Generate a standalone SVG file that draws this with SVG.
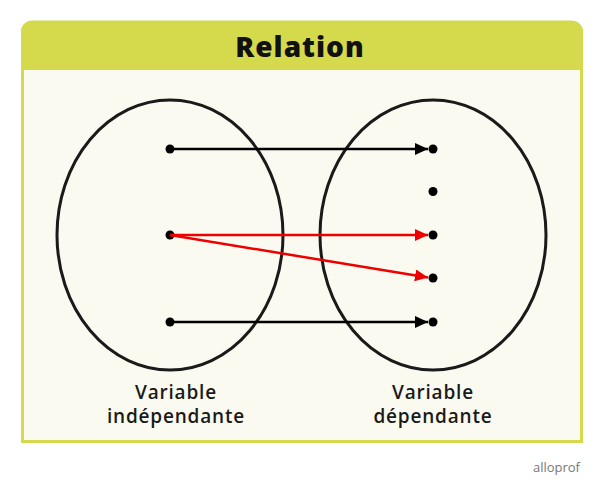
<svg xmlns="http://www.w3.org/2000/svg" width="600" height="493" viewBox="0 0 600 493">
<defs>
<style>
.ell{fill:none;stroke:#1a1a1a;stroke-width:3}
.dot{fill:#000}
.blk{stroke:#000;stroke-width:2.5;fill:none}
.red{stroke:#ee0000;stroke-width:2.5;fill:none}
.lbl{font-family:"Open Sans","Liberation Sans",sans-serif;font-weight:600;font-size:19px;letter-spacing:0.8px;fill:#1a1a1a;text-anchor:middle}
</style>
<marker id="ab" markerUnits="userSpaceOnUse" markerWidth="14" markerHeight="12" refX="13" refY="6" orient="auto">
<path d="M0,0 L13,6 L0,12 Z" fill="#000"/>
</marker>
<marker id="ar" markerUnits="userSpaceOnUse" markerWidth="14" markerHeight="12" refX="13" refY="6" orient="auto">
<path d="M0,0 L13,6 L0,12 Z" fill="#ee0000"/>
</marker>
</defs>
<rect width="600" height="493" fill="#ffffff"/>
<g id="frame">
<path d="M22.5,441.5 L22.5,32 A10,10 0 0 1 32.5,22 L571.5,22 A10,10 0 0 1 581.5,32 L581.5,441.5 Z" fill="#fafaf0" stroke="#d4da4b" stroke-width="3"/>
<path d="M21,70 L21,32 A11,11 0 0 1 32,21 L572,21 A11,11 0 0 1 583,32 L583,70 Z" fill="#d4da4b"/>
<text x="300" y="57" font-family="'Open Sans','Liberation Sans',sans-serif" font-weight="800" font-size="28" letter-spacing="1" fill="#111" text-anchor="middle">Relation</text>
</g>
<g id="set-independante">
<ellipse class="ell" cx="170" cy="235" rx="113" ry="135"/>
<circle class="dot" cx="170" cy="149" r="4.5"/>
<circle class="dot" cx="170" cy="235" r="4.5"/>
<circle class="dot" cx="170" cy="322" r="4.5"/>
<text class="lbl" x="176" y="399">Variable</text>
<text class="lbl" x="176" y="423">indépendante</text>
</g>
<g id="set-dependante">
<ellipse class="ell" cx="433" cy="235" rx="113" ry="135"/>
<circle class="dot" cx="433" cy="149" r="4.5"/>
<circle class="dot" cx="433" cy="191.5" r="4.5"/>
<circle class="dot" cx="433" cy="235" r="4.5"/>
<circle class="dot" cx="433" cy="278" r="4.5"/>
<circle class="dot" cx="433" cy="322" r="4.5"/>
<text class="lbl" x="433" y="399">Variable</text>
<text class="lbl" x="433" y="423">dépendante</text>
</g>
<g id="connectors">
<line class="blk" x1="170" y1="149" x2="428" y2="149" marker-end="url(#ab)"/>
<line class="blk" x1="170" y1="322" x2="428" y2="322" marker-end="url(#ab)"/>
<line class="red" x1="170" y1="235" x2="428" y2="235" marker-end="url(#ar)"/>
<line class="red" x1="170" y1="235" x2="428" y2="277.5" marker-end="url(#ar)"/>
</g>
<text x="580" y="472" font-family="'Open Sans','Liberation Sans',sans-serif" font-size="13" fill="#777" text-anchor="end">alloprof</text>
</svg>
